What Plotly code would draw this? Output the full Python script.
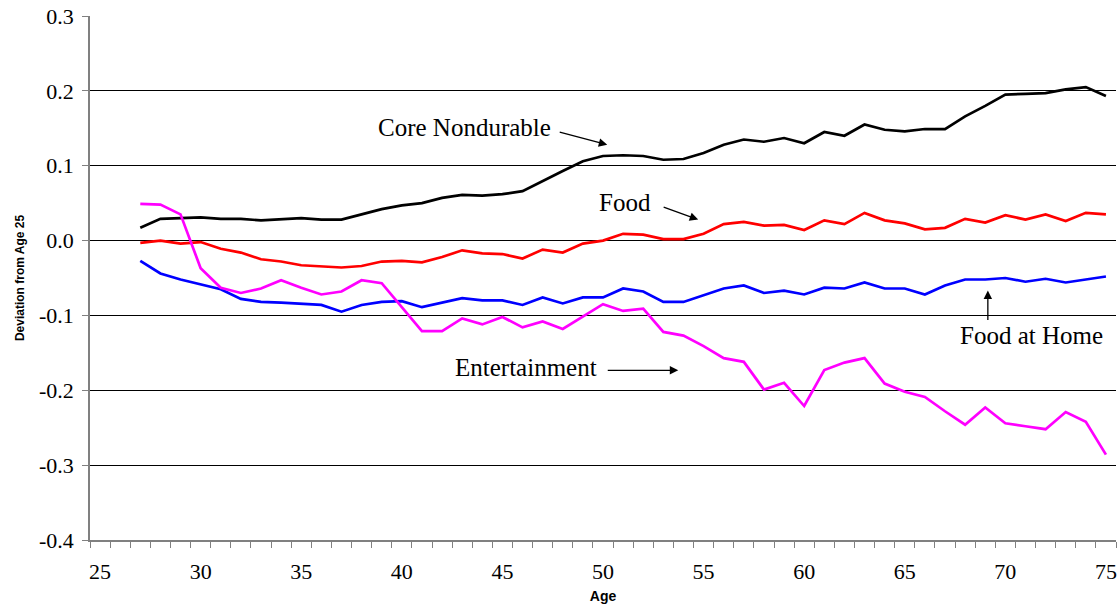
import plotly.graph_objects as go

ages = list(range(27, 76))

core_nondurable = [0.017, 0.029, 0.030, 0.031, 0.029, 0.029, 0.027, 0.029, 0.030, 0.028,
                   0.028, 0.035, 0.042, 0.047, 0.050, 0.057, 0.061, 0.060, 0.062, 0.066,
                   0.080, 0.093, 0.106, 0.113, 0.114, 0.113, 0.108, 0.109, 0.117, 0.128,
                   0.135, 0.132, 0.137, 0.130, 0.145, 0.140, 0.155, 0.148, 0.146, 0.149,
                   0.149, 0.166, 0.180, 0.195, 0.196, 0.197, 0.202, 0.205, 0.193]

food = [-0.003, 0.000, -0.004, -0.002, -0.011, -0.016, -0.025, -0.028, -0.033, -0.034,
        -0.036, -0.034, -0.028, -0.027, -0.029, -0.022, -0.013, -0.017, -0.018, -0.024,
        -0.012, -0.016, -0.004, 0.000, 0.009, 0.008, 0.002, 0.002, 0.009, 0.022,
        0.025, 0.020, 0.021, 0.014, 0.027, 0.022, 0.037, 0.027, 0.023, 0.015,
        0.017, 0.029, 0.024, 0.034, 0.028, 0.035, 0.026, 0.037, 0.035]

food_at_home = [-0.027, -0.044, -0.052, -0.059, -0.065, -0.078, -0.082, -0.083, -0.084, -0.086,
                -0.095, -0.086, -0.082, -0.081, -0.089, -0.083, -0.077, -0.080, -0.080, -0.086,
                -0.076, -0.084, -0.076, -0.076, -0.064, -0.068, -0.082, -0.082, -0.073, -0.064,
                -0.060, -0.070, -0.067, -0.072, -0.063, -0.064, -0.056, -0.064, -0.064, -0.072,
                -0.060, -0.052, -0.052, -0.050, -0.055, -0.051, -0.056, -0.052, -0.048]

entertainment = [0.049, 0.048, 0.035, -0.037, -0.063, -0.070, -0.064, -0.053, -0.063, -0.072,
                 -0.068, -0.053, -0.057, -0.089, -0.121, -0.121, -0.104, -0.112, -0.102, -0.116,
                 -0.108, -0.118, -0.101, -0.085, -0.094, -0.091, -0.122, -0.127, -0.141, -0.157,
                 -0.162, -0.199, -0.190, -0.221, -0.173, -0.163, -0.157, -0.191, -0.202, -0.209,
                 -0.228, -0.246, -0.223, -0.244, -0.248, -0.252, -0.229, -0.242, -0.286]

x_tick_vals = [25, 30, 35, 40, 45, 50, 55, 60, 65, 70, 75]
x_tick_labels = ["25", "30", "35", "40", "45", "50", "55", "60", "65", "70", "75"]
y_tick_vals = [-0.4, -0.3, -0.2, -0.1, 0.0, 0.1, 0.2, 0.3]
y_tick_labels = ["-0.4", "-0.3", "-0.2", "-0.1", "0.0", "0.1", "0.2", "0.3"]

series = [
    ("Core Nondurable", core_nondurable, "#000000"),
    ("Food", food, "#FF0000"),
    ("Food at Home", food_at_home, "#0000FF"),
    ("Entertainment", entertainment, "#FF00FF"),
]

fig = go.Figure()
for name, vals, color in series:
    fig.add_trace(go.Scatter(x=ages, y=vals, mode="lines", name=name,
                             line=dict(color=color, width=2.7)))

serif = "Liberation Serif, Times New Roman, serif"
sans = "Liberation Sans, Arial, sans-serif"
label_font = dict(family=serif, size=25, color="#000000")

# text labels
labels = [
    ("Core Nondurable", 43.13, 0.1507),
    ("Food", 51.10, 0.0507),
    ("Food at Home", 71.28, -0.1267),
    ("Entertainment", 46.18, -0.1693),
]
for txt, xx, yy in labels:
    fig.add_annotation(x=xx, y=yy, text=txt, showarrow=False, font=label_font,
                       xanchor="center", yanchor="middle")

# arrows (tip in data coords, tail offset in px)
arrows = [
    (50.21, 0.128, -49, -13),
    (54.73, 0.028, -36, -13),
    (69.13, -0.0667, 0, 31),
    (53.74, -0.1733, -72, 0),
]
for xx, yy, axp, ayp in arrows:
    fig.add_annotation(x=xx, y=yy, ax=axp, ay=ayp, text="", showarrow=True,
                       arrowhead=2, arrowsize=1.3, arrowwidth=1.3, arrowcolor="#000000")

fig.update_layout(
    width=1119, height=610,
    margin=dict(l=90, r=3, t=16, b=70),
    paper_bgcolor="white", plot_bgcolor="white",
    showlegend=False,
    xaxis=dict(
        range=[24.5, 75.5],
        tickmode="array", tickvals=x_tick_vals, ticktext=x_tick_labels,
        ticks="", showgrid=False, zeroline=False,
        showline=True, linecolor="#808080", linewidth=1.5,
        tickfont=dict(family=serif, size=22, color="#000000"),
        ticklabelstandoff=11,
        minor=dict(tickmode="array", tickvals=[a + 0.5 for a in range(24, 76)],
                   ticks="outside", ticklen=6, tickcolor="#808080", tickwidth=1, showgrid=False),
        title=dict(text="<b>Age</b>", font=dict(family=sans, size=14, color="#000000"), standoff=8),
    ),
    yaxis=dict(
        range=[-0.4, 0.3],
        tickmode="array", tickvals=y_tick_vals, ticktext=y_tick_labels,
        ticks="outside", ticklen=6, tickcolor="#808080",
        showgrid=True, gridcolor="#000000", gridwidth=1,
        zeroline=False,
        showline=True, linecolor="#808080", linewidth=1.5,
        tickfont=dict(family=serif, size=22, color="#000000"),
        ticklabelstandoff=4,
        title=dict(text="<b>Deviation from Age 25</b>", font=dict(family=sans, size=12, color="#000000"), standoff=12),
    ),
)

fig.write_html("out.html", config={"displayModeBar": False},
               post_script="document.body.style.margin='0';document.body.style.overflow='hidden';")
